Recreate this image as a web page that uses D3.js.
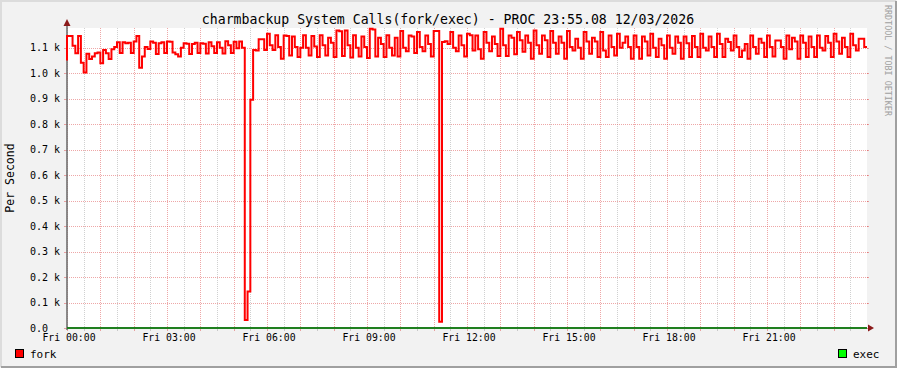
<!DOCTYPE html>
<html><head><meta charset="utf-8">
<script src="https://cdn.jsdelivr.net/npm/d3@7"></script>
<style>html,body{margin:0;padding:0;background:#F2F2F2}svg{display:block}</style>
</head><body>
<svg id="chart" width="897" height="368"></svg>
<script>
// ---------------- data ----------------
const title = "charmbackup System Calls(fork/exec) - PROC 23:55.08 12/03/2026";
const yAxisTitle = "Per Second";
const watermark = "RRDTOOL / TOBI OETIKER";
const seriesNames = ["fork", "exec"];
const seriesColors = ["#FF0000", "#00FF00"];
const xTickHours = [0, 3, 6, 9, 12, 15, 18, 21];
const xTickLabels = ["Fri 00:00", "Fri 03:00", "Fri 06:00", "Fri 09:00", "Fri 12:00", "Fri 15:00", "Fri 18:00", "Fri 21:00"];
const yTickValues = [0, 100, 200, 300, 400, 500, 600, 700, 800, 900, 1000, 1100];
const yTickLabels = ["0.0", "0.1 k", "0.2 k", "0.3 k", "0.4 k", "0.5 k", "0.6 k", "0.7 k", "0.8 k", "0.9 k", "1.0 k", "1.1 k"];
const yMax = 1178;
const stepMinutes = 5;            // one sample every 5 minutes, 288 per day
const forkBefore = 1050;          // value just before the first sample
const fork = [
  1147,1147,1108,1079,1147,1042,1003,1077,1056,1066,1079,1082,
  1040,1092,1079,1056,1095,1103,1122,1080,1122,1118,1120,1080,
  1125,1147,1022,1066,1103,1096,1125,1120,1076,1118,1122,1080,
  1125,1124,1082,1075,1066,1100,1118,1116,1076,1115,1120,1080,
  1118,1116,1078,1122,1106,1080,1122,1100,1078,1126,1110,1080,
  1124,1098,1125,1100,  31, 143, 896,1092,1090,1134,1134,1092,
  1155,1110,1092,1150,1103,1057,1149,1147,1070,1145,1103,1064,
  1100,1150,1100,1070,1147,1105,1064,1150,1110,1070,1140,1120,
  1064,1168,1165,1068,1168,1110,1062,1150,1100,1066,1145,1103,
  1060,1175,1172,1066,1140,1115,1064,1150,1100,1070,1140,1066,
  1166,1100,1087,1149,1145,1080,1162,1103,1087,1149,1115,1066,
  1166,1166,  25,1123,1126,1115,1162,1100,1087,1149,1110,1066,
  1155,1150,1090,1149,1095,1057,1162,1120,1087,1145,1115,1068,
  1175,1110,1068,1149,1140,1075,1162,1130,1085,1149,1120,1057,
  1168,1110,1077,1149,1130,1064,1166,1120,1077,1145,1120,1057,
  1166,1103,1090,1136,1100,1057,1162,1125,1077,1140,1125,1064,
  1162,1090,1064,1149,1103,1070,1155,1100,1120,1145,1103,1057,
  1149,1103,1057,1145,1125,1070,1155,1100,1064,1136,1110,1057,
  1149,1100,1077,1145,1120,1057,1145,1118,1064,1147,1103,1064,
  1155,1100,1090,1145,1103,1064,1155,1115,1064,1136,1123,1090,
  1149,1103,1064,1090,1115,1057,1149,1103,1077,1136,1120,1064,
  1149,1103,1066,1129,1129,1103,1057,1149,1095,1140,1125,1057,
  1149,1120,1064,1145,1103,1064,1149,1100,1090,1147,1120,1064,
  1155,1125,1077,1140,1103,1064,1155,1110,1090,1136,1136,1103
];
const exec = [
  0,0,0,0,0,0,0,0,0,0,0,0, 0,0,0,0,0,0,0,0,0,0,0,0,
  0,0,0,0,0,0,0,0,0,0,0,0, 0,0,0,0,0,0,0,0,0,0,0,0,
  0,0,0,0,0,0,0,0,0,0,0,0, 0,0,0,0,0,0,0,0,0,0,0,0,
  0,0,0,0,0,0,0,0,0,0,0,0, 0,0,0,0,0,0,0,0,0,0,0,0,
  0,0,0,0,0,0,0,0,0,0,0,0, 0,0,0,0,0,0,0,0,0,0,0,0,
  0,0,0,0,0,0,0,0,0,0,0,0, 0,0,0,0,0,0,0,0,0,0,0,0,
  0,0,0,0,0,0,0,0,0,0,0,0, 0,0,0,0,0,0,0,0,0,0,0,0,
  0,0,0,0,0,0,0,0,0,0,0,0, 0,0,0,0,0,0,0,0,0,0,0,0,
  0,0,0,0,0,0,0,0,0,0,0,0, 0,0,0,0,0,0,0,0,0,0,0,0,
  0,0,0,0,0,0,0,0,0,0,0,0, 0,0,0,0,0,0,0,0,0,0,0,0,
  0,0,0,0,0,0,0,0,0,0,0,0, 0,0,0,0,0,0,0,0,0,0,0,0,
  0,0,0,0,0,0,0,0,0,0,0,0, 0,0,0,0,0,0,0,0,0,0,0,0
];

// ---------------- layout ----------------
const W = 897, H = 368;
const plot = {left: 67, right: 867, top: 28, bottom: 328};
const mono = "'DejaVu Sans Mono', 'Liberation Mono', monospace";

const svg = d3.select("#chart");
const x = d3.scaleLinear().domain([0, 24]).range([plot.left, plot.right]);
const y = d3.scaleLinear().domain([0, yMax]).range([plot.bottom, plot.top]);

// background + frame
svg.append("rect").attr("width", W).attr("height", H).attr("fill", "#F2F2F2");
svg.append("path").attr("d", `M1,${H-1}V1H${W-1}`).attr("stroke", "#DCDCDC").attr("stroke-width", 2).attr("fill", "none");
svg.append("path").attr("d", `M1,${H-1}H${W-1}V1`).attr("stroke", "#A0A0A0").attr("stroke-width", 2).attr("fill", "none");

// canvas
svg.append("rect").attr("x", plot.left).attr("y", plot.top)
  .attr("width", plot.right - plot.left).attr("height", plot.bottom - plot.top).attr("fill", "#FFFFFF");

const minorCol = "rgba(143,143,143,0.42)";
const majorCol = "rgba(222,80,80,0.5)";
const grid = svg.append("g").attr("shape-rendering", "crispEdges");

// vertical grid: minor every 30 min, major every hour
d3.range(0, 24, 0.5).forEach(h => {
  const major = Number.isInteger(h);
  const px = Math.round(x(h)) + 0.5;
  const col = major ? majorCol : minorCol;
  grid.append("line").attr("x1", px).attr("x2", px).attr("y1", plot.top).attr("y2", plot.bottom)
    .attr("stroke", col).attr("stroke-dasharray", "1,1");
  grid.append("line").attr("x1", px).attr("x2", px).attr("y1", plot.bottom).attr("y2", plot.bottom + 3)
    .attr("stroke", col);
});
// horizontal grid
yTickValues.forEach(v => {
  const py = Math.round(y(v)) + 0.5;
  grid.append("line").attr("x1", plot.left).attr("x2", plot.right + 1).attr("y1", py).attr("y2", py)
    .attr("stroke", majorCol).attr("stroke-dasharray", "1,1");
  grid.append("line").attr("x1", plot.left - 3).attr("x2", plot.left).attr("y1", py).attr("y2", py)
    .attr("stroke", majorCol);
  grid.append("line").attr("x1", plot.right).attr("x2", plot.right + 2).attr("y1", py).attr("y2", py)
    .attr("stroke", majorCol);
});

// y tick labels
svg.append("g").selectAll("text").data(yTickValues).join("text")
  .attr("x", 30).attr("y", d => y(d) + 3.6)
  .attr("font-family", mono).attr("font-size", "10px").attr("fill", "#000")
  .text((d, i) => yTickLabels[i]);

// x tick labels
svg.append("g").selectAll("text").data(xTickHours).join("text")
  .attr("x", d => x(d) + 2).attr("y", 341)
  .attr("text-anchor", "middle")
  .attr("font-family", mono).attr("font-size", "9.8px").attr("fill", "#000")
  .text((d, i) => xTickLabels[i]);

// series
const stepH = stepMinutes / 60;
function pts(vals, before) {
  const p = [];
  if (before !== undefined) p.push([0, before]);
  vals.forEach((v, i) => p.push([i * stepH, v]));
  p.push([vals.length * stepH, vals[vals.length - 1]]);
  return p;
}
const line = d3.line().x(d => x(d[0])).y(d => y(d[1])).curve(d3.curveStepAfter);

// y axis line
svg.append("line").attr("x1", plot.left).attr("x2", plot.left).attr("y1", plot.top - 3).attr("y2", plot.bottom + 2)
  .attr("stroke", "#707070").attr("stroke-width", 1.6);

svg.append("path").attr("d", line(pts(fork, forkBefore)))
  .attr("fill", "none").attr("stroke", seriesColors[0]).attr("stroke-width", 2).attr("stroke-linejoin", "miter");
svg.append("path").attr("d", line(pts(exec)))
  .attr("fill", "none").attr("stroke", "#1F7F1F").attr("stroke-width", 2);

// arrows
svg.append("path").attr("d", `M${plot.left - 3.5},${plot.top - 2}L${plot.left},${plot.top - 9}L${plot.left + 3.5},${plot.top - 2}Z`)
  .attr("fill", "#8B1A1A");
svg.append("path").attr("d", `M${plot.right + 1},${plot.bottom - 3.5}L${plot.right + 7},${plot.bottom}L${plot.right + 1},${plot.bottom + 3.5}Z`)
  .attr("fill", "#8B1A1A");

// title
svg.append("text").attr("x", 448).attr("y", 24).attr("text-anchor", "middle")
  .attr("font-family", mono).attr("font-size", "13.2px").attr("fill", "#000").text(title);

// y axis title
svg.append("text").attr("transform", `translate(14,${(plot.top + plot.bottom) / 2}) rotate(-90)`)
  .attr("text-anchor", "middle")
  .attr("font-family", mono).attr("font-size", "11.5px").attr("fill", "#000").text(yAxisTitle);

// watermark
svg.append("text").attr("transform", `translate(885,5) rotate(90)`)
  .attr("font-family", mono).attr("font-size", "8.4px").attr("fill", "#A0A0A0").text(watermark);

// legend
const legend = [
  {name: seriesNames[0], color: seriesColors[0], bx: 15.5, tx: 30},
  {name: seriesNames[1], color: seriesColors[1], bx: 838.5, tx: 853}
];
legend.forEach(l => {
  svg.append("rect").attr("x", l.bx).attr("y", 349.5).attr("width", 8).attr("height", 8)
    .attr("fill", l.color).attr("stroke", "#000").attr("stroke-width", 1);
  svg.append("text").attr("x", l.tx).attr("y", 357.5)
    .attr("font-family", mono).attr("font-size", "11px").attr("fill", "#000").text(l.name);
});
</script>
</body></html>
